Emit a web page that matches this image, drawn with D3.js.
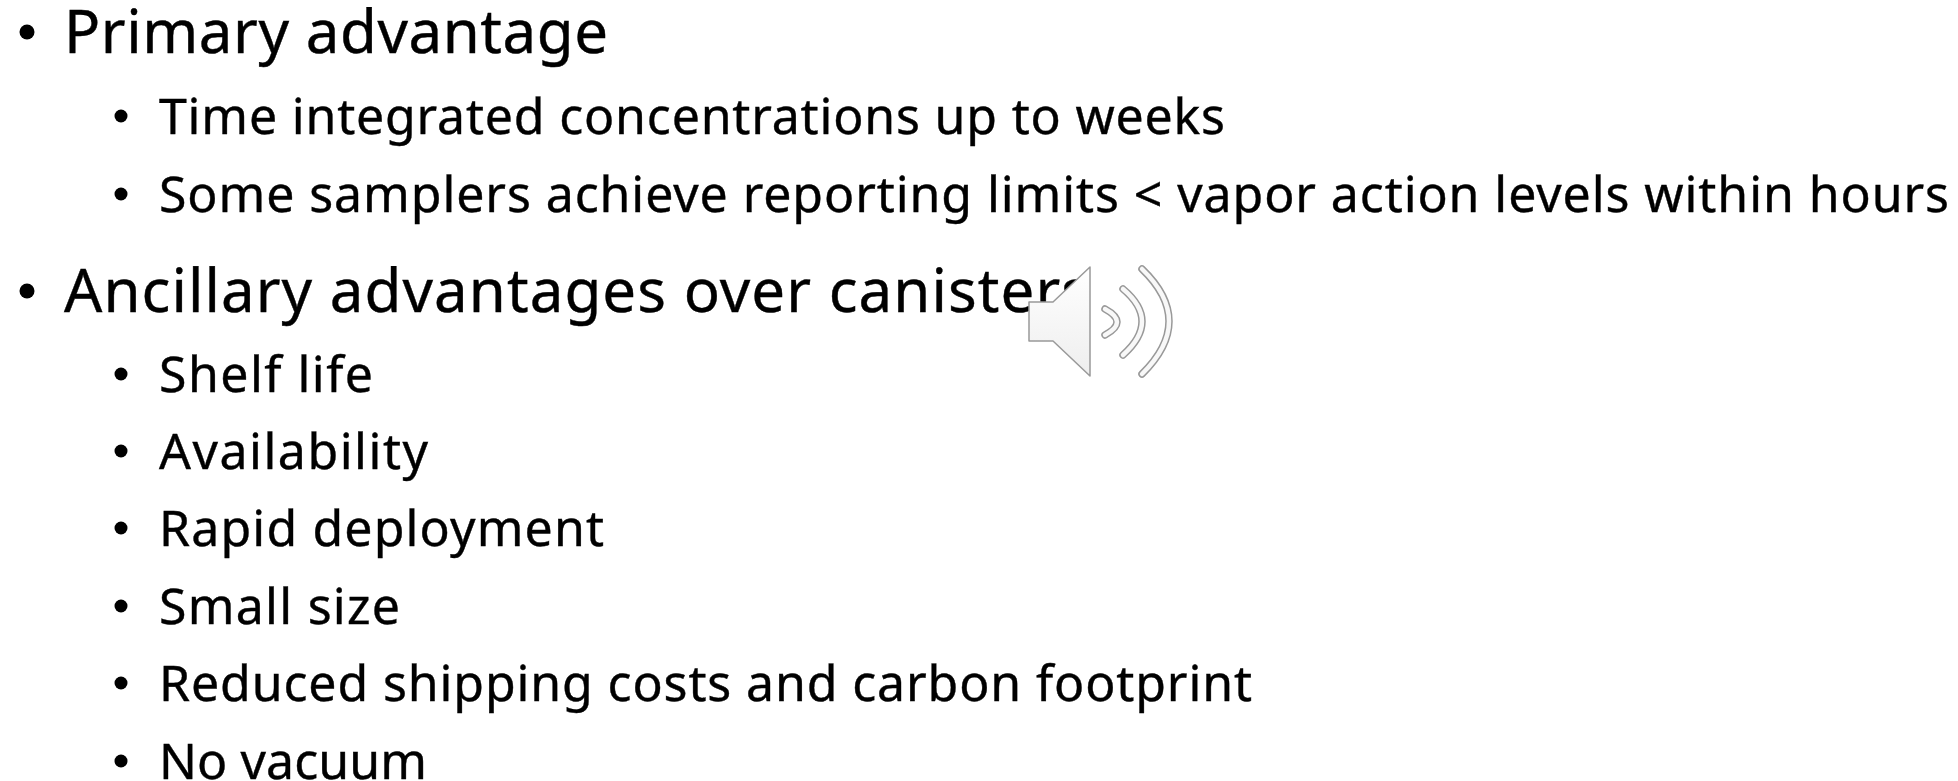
<!DOCTYPE html>
<html>
<head>
<meta charset="utf-8">
<script src="https://cdn.jsdelivr.net/npm/d3@7"></script>
<style>
  html, body { margin: 0; padding: 0; background: #fff; overflow: hidden; }
  text { font-family: "Noto Sans", "Open Sans", sans-serif; fill: #000; stroke: #000; stroke-width: 0.4px; }
</style>
</head>
<body>
<div id="plot"></div>
<script>
// slide text, one row per bullet
var lines = [
  "Primary advantage",
  "Time integrated concentrations up to weeks",
  "Some samplers achieve reporting limits < vapor action levels within hours",
  "Ancillary advantages over canisters",
  "Shelf life",
  "Availability",
  "Rapid deployment",
  "Small size",
  "Reduced shipping costs and carbon footprint",
  "No vacuum"
]
var levels = [0, 1, 1, 0, 1, 1, 1, 1, 1, 1]

// layout, the font differs so each row is fitted to its width
var baselines = [53, 134, 212, 312, 392, 469, 546, 624, 701, 779]
var rowWidths = [544, 1066, 1790, 1026, 214, 269, 445, 241, 1093, 268]

var svgWidth = 1958
var svgHeight = 781

var svg = d3.select("#plot")
  .append("svg")
  .attr("width", svgWidth)
  .attr("height", svgHeight)

var rows = svg.selectAll("g.row")
  .data(lines)
  .enter()
  .append("g")
  .attr("class", "row")
  .attr("transform", (d, i) => `translate(0, ${baselines[i]})`)

rows.append("circle")
  .attr("cx", (d, i) => levels[i] ? 121 : 27)
  .attr("cy", (d, i) => levels[i] ? -18 : -21)
  .attr("r", (d, i) => levels[i] ? 6.5 : 7.5)
  .attr("fill", "#000")

rows.append("text")
  .attr("x", (d, i) => levels[i] ? 159 : 64)
  .attr("textLength", (d, i) => rowWidths[i])
  .style("font-size", (d, i) => levels[i] ? "50px" : "60px")
  .text(d => d)

// speaker icon, sits on top of the text
var defs = svg.append("defs")
var grad = defs.append("linearGradient")
  .attr("id", "speakerFill")
  .attr("x1", 0).attr("y1", 0).attr("x2", 0).attr("y2", 1)
grad.append("stop").attr("offset", "0").attr("stop-color", "#ffffff")
grad.append("stop").attr("offset", "1").attr("stop-color", "#eeeeee")

var icon = svg.append("g").attr("transform", "translate(1029, 267)")
icon.append("path")
  .attr("d", "M0 35H24L61 0V109L24 74H0Z")
  .attr("fill", "url(#speakerFill)")
  .attr("stroke", "#999")
  .attr("stroke-width", 1.5)
  .attr("stroke-linejoin", "round")

var arcs = [
  "M76 42Q100 55 76 68",
  "M94 22Q132 54 94 88",
  "M113 2Q167 54 113 107"
]
arcs.forEach(a => {
  icon.append("path")
    .attr("d", a)
    .attr("fill", "none")
    .attr("stroke", "#999")
    .attr("stroke-width", 7.5)
    .attr("stroke-linecap", "round")
  icon.append("path")
    .attr("d", a)
    .attr("fill", "none")
    .attr("stroke", "#f8f8f8")
    .attr("stroke-width", 4.5)
    .attr("stroke-linecap", "round")
})
</script>
</body>
</html>
